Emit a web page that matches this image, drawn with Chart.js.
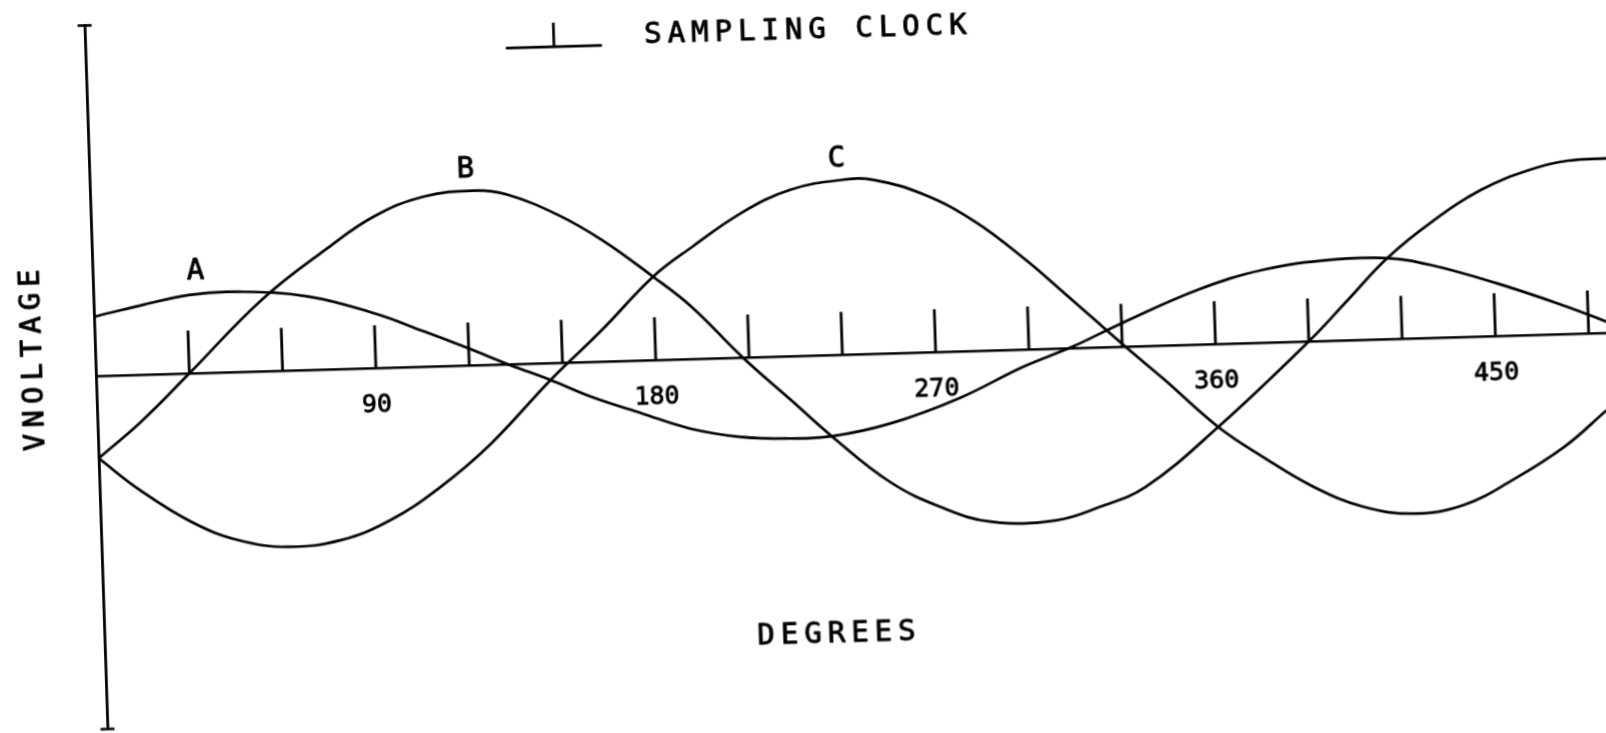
<!DOCTYPE html>
<html>
<head>
<meta charset="utf-8">
<title>Three-phase voltage and sampling clock</title>
<script src="https://cdn.jsdelivr.net/npm/chart.js@4.4.1/dist/chart.umd.min.js"></script>
<style>
  html, body { margin: 0; padding: 0; background: #fff; width: 1606px; height: 733px; overflow: hidden; }
  #sheet { position: relative; width: 1606px; height: 733px; overflow: hidden; background: #fff; }
  /* the plotter sheet sits slightly skewed on the page */
  #plot { position: absolute; left: 0; top: 0; transform-origin: 96px 376px; transform: matrix(1, -0.0286, 0.0326, 1, 0, 0); }
</style>
</head>
<body>
<div id="sheet"><canvas id="plot" width="1660" height="733"></canvas></div>
<script>
// ---- phase voltages, degrees vs volts ----
const phaseADegrees = [0, 15, 31, 47, 69, 90, 106, 120, 133, 146, 159, 175, 190, 206, 222, 236, 255, 277, 298, 314, 330, 355, 376, 398, 416, 430, 451, 473, 486];
const phaseAVolts   = [1.68, 1.96, 2.22, 2.27, 2.08, 1.55, 0.99, 0.48, -0.02, -0.48, -0.99, -1.50, -1.96, -2.24, -2.33, -2.30, -1.98, -1.33, -0.49, 0.04, 0.66, 1.55, 2.06, 2.29, 2.29, 2.06, 1.49, 0.78, 0.31];

const phaseBDegrees = [0, 14, 30, 54, 75, 91, 107, 124, 134, 150, 164, 180, 192, 208, 223, 236, 254, 270, 286, 307, 321, 336, 360, 390, 403, 416, 431, 447, 463, 475, 488];
const phaseBVolts   = [-2.33, -1.33, 0, 2.02, 3.39, 4.29, 4.81, 4.94, 4.80, 4.19, 3.44, 2.36, 1.48, 0, -1.24, -2.32, -3.64, -4.39, -4.85, -4.86, -4.52, -3.99, -2.35, 0, 1.14, 2.29, 3.30, 4.15, 4.68, 4.90, 4.94];

const phaseCDegrees = [0, 13, 29, 44, 60, 77, 93, 109, 126, 146, 163, 180, 193, 209, 225, 242, 252, 268, 284, 300, 312, 331, 343, 360, 374, 390, 406, 422, 438, 454, 471, 485];
const phaseCVolts   = [-2.33, -3.27, -4.20, -4.76, -4.99, -4.84, -4.32, -3.45, -2.25, -0.48, 0.89, 2.36, 3.18, 4.09, 4.71, 4.95, 4.92, 4.46, 3.66, 2.53, 1.56, 0, -0.95, -2.35, -3.23, -4.12, -4.73, -4.96, -4.76, -4.09, -3.19, -2.19];

// ---- sampling clock pulses ----
const clockDegrees = [30, 60, 90, 120, 150, 180, 210, 240, 270, 300, 330, 360, 390, 420, 450, 480];
const clockPulseVolts = 1.21;

// ---- axes ----
const degreeTickLabels = [90, 180, 270, 360, 450];
const degreeRange = [0, 500];
const voltRange = [-10, 9.93];

const seriesNames = ['A', 'B', 'C'];

// ---- drawing ----
const INK = '#000';
const MONO = '"DejaVu Sans Mono", "Liberation Mono", monospace';
const PX_PER_DEGREE = 3.1097;
const PX_PER_VOLT = 35.3;
const CANVAS_W = 1660, CANVAS_H = 733;
const ORIGIN_X = 96, ORIGIN_Y = 376;

// where the hand lettering sits, in degrees / volts
const lettering = {
  names: [{ deg: 33, volt: 2.89 }, { deg: 120.8, volt: 5.55 }, { deg: 240.1, volt: 5.54 }],
  clockKey: { from: 135.1, to: 166, pulseAt: 150.6, base: 8.95, top: 9.63, textDeg: 179.7, textVolt: 9.19 },
  xTitle: { deg: 235.2, volt: -7.91 },
  yTitle: { deg: -19.8, volt: 0.5 }
};

const toPoints = (xs, ys) => xs.map((x, i) => ({ x, y: ys[i] }));
const clockPoints = clockDegrees.flatMap(d => [{ x: d, y: 0 }, { x: d, y: clockPulseVolts }, { x: d, y: null }]);

function spacedText(ctx, text, x, y, spacing, align) {
  const chars = [...text];
  const widths = chars.map(c => ctx.measureText(c).width);
  const total = widths.reduce((a, b) => a + b, 0) + spacing * (chars.length - 1);
  let cx = align === 'center' ? x - total / 2 : x;
  chars.forEach((c, i) => {
    ctx.fillText(c, cx, y);
    ctx.strokeText(c, cx, y);
    cx += widths[i] + spacing;
  });
}

const plotterLettering = {
  id: 'plotterLettering',
  afterDraw(chart) {
    const { ctx, scales: { x, y } } = chart;
    ctx.save();
    ctx.fillStyle = INK;
    ctx.strokeStyle = INK;

    // sampling clock key symbol
    const k = lettering.clockKey;
    ctx.lineWidth = 2.7;
    ctx.lineCap = 'butt';
    ctx.beginPath();
    ctx.moveTo(x.getPixelForValue(k.from), y.getPixelForValue(k.base));
    ctx.lineTo(x.getPixelForValue(k.to), y.getPixelForValue(k.base));
    ctx.moveTo(x.getPixelForValue(k.pulseAt), y.getPixelForValue(k.base));
    ctx.lineTo(x.getPixelForValue(k.pulseAt), y.getPixelForValue(k.top));
    ctx.stroke();

    ctx.textAlign = 'left';
    ctx.textBaseline = 'middle';
    ctx.font = `29px ${MONO}`;
    ctx.lineWidth = 0.9;
    ctx.lineJoin = 'round';

    // curve names
    lettering.names.forEach((p, i) => {
      spacedText(ctx, seriesNames[i], x.getPixelForValue(p.deg), y.getPixelForValue(p.volt), 6, 'center');
    });

    spacedText(ctx, 'SAMPLING CLOCK', x.getPixelForValue(k.textDeg), y.getPixelForValue(k.textVolt), 6, 'left');

    // axis titles
    spacedText(ctx, 'DEGREES', x.getPixelForValue(lettering.xTitle.deg), y.getPixelForValue(lettering.xTitle.volt), 6, 'center');
    ctx.translate(x.getPixelForValue(lettering.yTitle.deg), y.getPixelForValue(lettering.yTitle.volt));
    ctx.rotate(-Math.PI / 2);
    spacedText(ctx, 'VNOLTAGE', 0, 0, 6, 'center');
    ctx.restore();
  }
};

const curve = (label, data) => ({
  label, data,
  borderColor: INK, borderWidth: 2.7,
  tension: 0.4,
  pointRadius: 0, fill: false
});

const canvas = document.getElementById('plot');
new Chart(canvas, {
  type: 'line',
  data: {
    datasets: [
      curve(seriesNames[0], toPoints(phaseADegrees, phaseAVolts)),
      curve(seriesNames[1], toPoints(phaseBDegrees, phaseBVolts)),
      curve(seriesNames[2], toPoints(phaseCDegrees, phaseCVolts)),
      {
        label: 'SAMPLING CLOCK', data: clockPoints,
        borderColor: INK, borderWidth: 2.8, tension: 0, spanGaps: false,
        pointRadius: 0, fill: false
      },
      {
        type: 'scatter', label: 'axis ends',
        data: [{ x: degreeRange[0], y: voltRange[1] }, { x: degreeRange[0], y: voltRange[0] }],
        pointStyle: 'line', pointRadius: 7, pointBorderWidth: 2.6,
        borderColor: INK, showLine: false, clip: false
      }
    ]
  },
  options: {
    responsive: false,
    animation: false,
    devicePixelRatio: 1,
    events: [],
    layout: {
      autoPadding: false,
      padding: {
        left: ORIGIN_X,
        top: ORIGIN_Y - voltRange[1] * PX_PER_VOLT,
        bottom: CANVAS_H - (ORIGIN_Y - voltRange[0] * PX_PER_VOLT),
        right: CANVAS_W - ORIGIN_X - (degreeRange[1] - degreeRange[0]) * PX_PER_DEGREE
      }
    },
    plugins: { legend: { display: false }, tooltip: { enabled: false } },
    scales: {
      x: {
        type: 'linear', min: degreeRange[0], max: degreeRange[1],
        position: { y: 0 },
        afterBuildTicks: s => { s.ticks = degreeTickLabels.map(v => ({ value: v })); },
        ticks: {
          color: INK, font: { family: MONO, size: 25 }, padding: 22,
          textStrokeColor: INK, textStrokeWidth: 0.8,
          maxRotation: 0, autoSkip: false
        },
        grid: { drawOnChartArea: false, drawTicks: false },
        border: { color: INK, width: 2.5 }
      },
      y: {
        type: 'linear', min: voltRange[0], max: voltRange[1],
        position: { x: 0 },
        ticks: { display: false },
        grid: { drawOnChartArea: false, drawTicks: false },
        border: { color: INK, width: 2.8 }
      }
    }
  },
  plugins: [plotterLettering]
});
</script>
</body>
</html>
